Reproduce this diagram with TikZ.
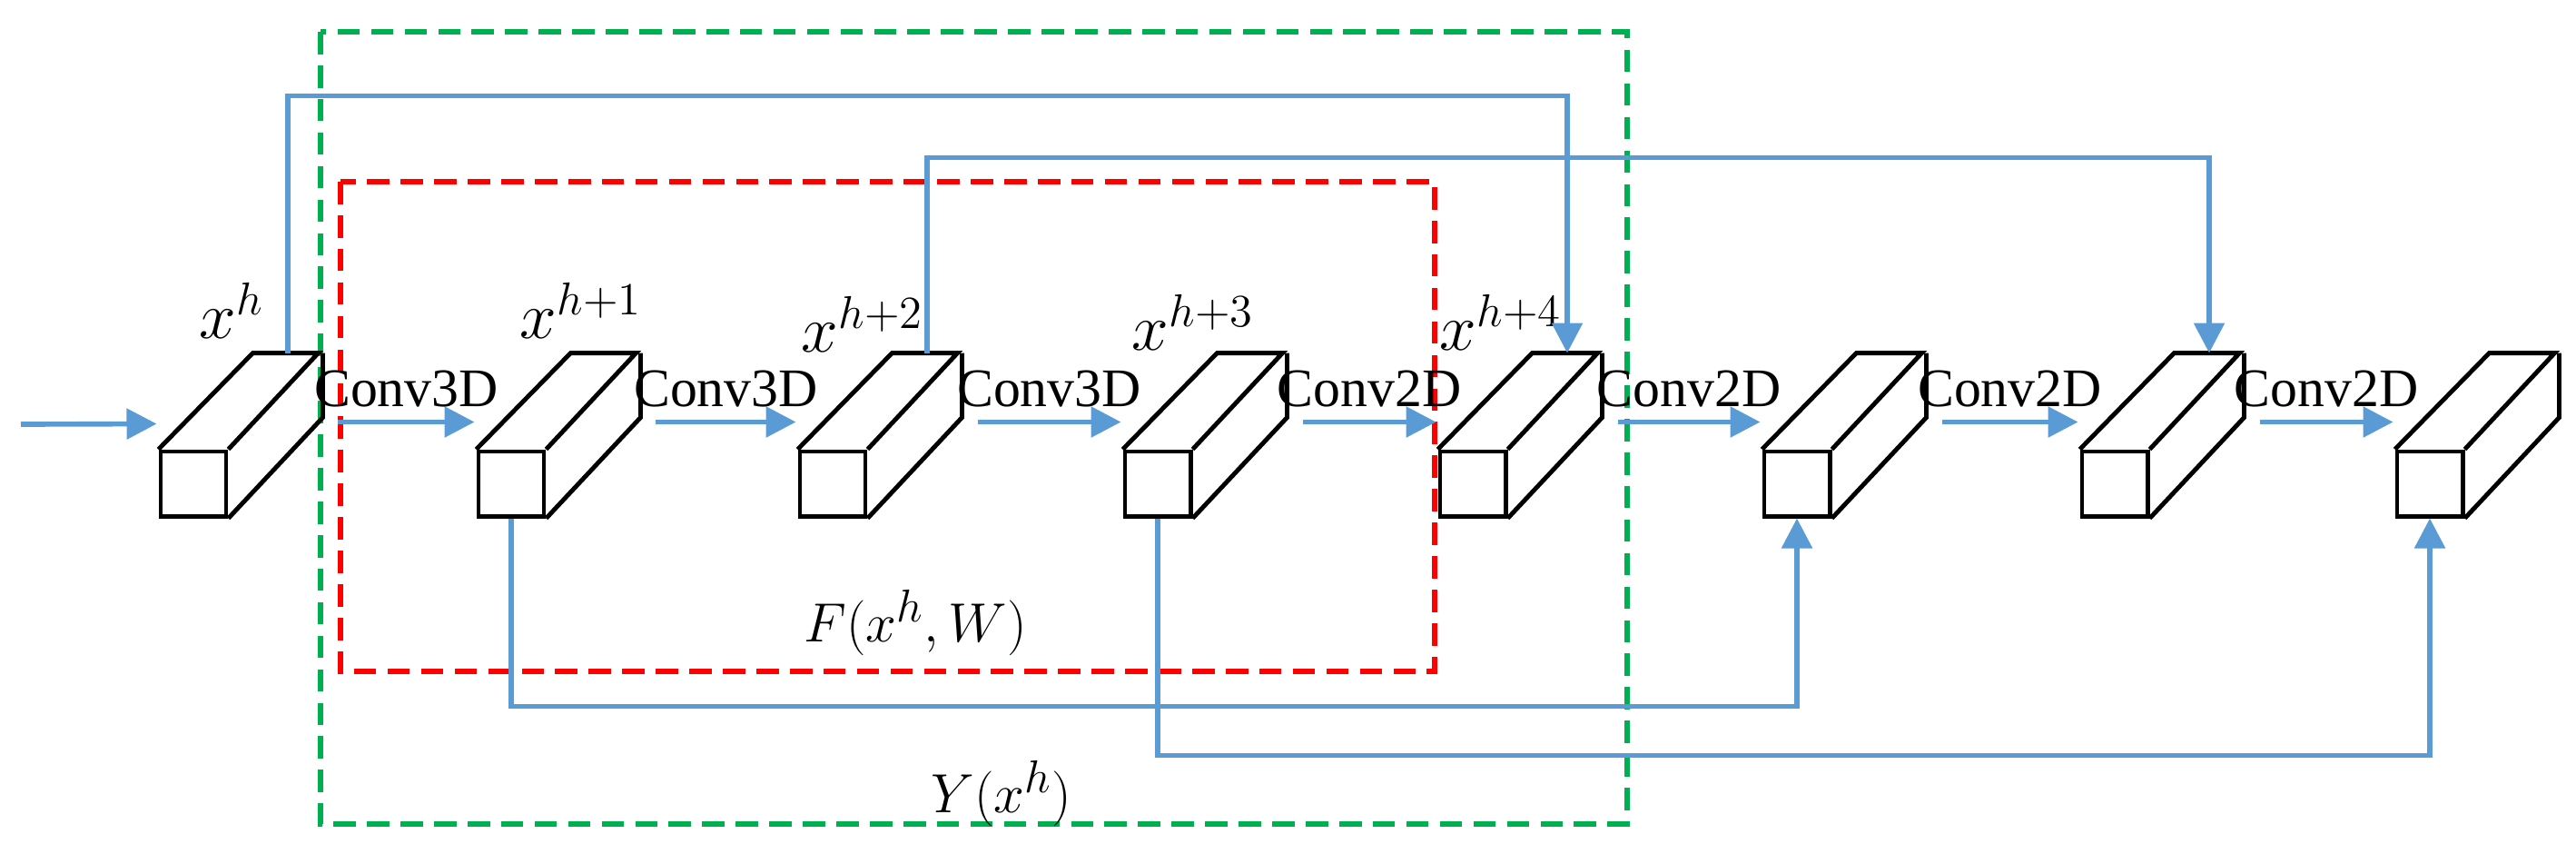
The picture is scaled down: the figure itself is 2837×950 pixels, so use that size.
\documentclass[tikz,border=0pt]{standalone}
\usepackage{fontspec}
\setmainfont{Liberation Serif}
\usetikzlibrary{positioning, arrows.meta, calc}
\definecolor{skipblue}{RGB}{91,155,213}
\definecolor{boxgreen}{RGB}{0,176,80}
\tikzset{
	front/.style={draw, line width=1.4pt, fill=white, minimum width=0.72cm, minimum height=0.71cm, inner sep=0pt},
	edgeline/.style={line width=1.4pt, line join=miter},
	flow/.style={skipblue, line width=1.6pt, -{Triangle[length=0.33cm,width=0.33cm]}},
	frame/.style={line width=1.6pt, dash pattern=on 7pt off 3.5pt},
	convlabel/.style={font=\fontsize{17}{20}\selectfont, above, inner sep=4pt},
	featlabel/.style={font=\fontsize{22}{24}\selectfont}
}
\begin{document}
\begin{tikzpicture}[x=0.01cm, y=-0.01cm]
	\useasboundingbox (0,0) rectangle (2837,950);
	% dashed frames
	\draw[frame, boxgreen] (353,35) rectangle (1792,907);
	\draw[frame, red] (375,200) rectangle (1580,739);
	\node[font=\fontsize{19}{22}\selectfont] (flabel) at (1008,685) {$F(x^{h},W)$};
	\node[font=\fontsize{19}{22}\selectfont] (ylabel) at (1103,873) {$Y(x^{h})$};
	% feature blocks
	\foreach \i/\x in {1/177, 2/527, 3/881, 4/1239, 5/1586, 6/1943, 7/2293, 8/2640}
	{
		\node[front] (b\i) at (\x+36,532.5) {};
		\draw[edgeline] (b\i.north west) -- ++(104,-106) -- ++(72,0) -- (b\i.north east);
		\draw[edgeline] ($(b\i.north east)+(104,-106)$) -- ++(0,71) -- (b\i.south east);
		\coordinate (b\i t) at ($(b\i.north)+(104,-106)$);
	}
	\node[featlabel] (xh0) at (255,342) {$x^{h}$};
	\node[featlabel] (xh1) at (640,342) {$x^{h+1}$};
	\node[featlabel] (xh2) at (950,357) {$x^{h+2}$};
	\node[featlabel] (xh3) at (1314,355) {$x^{h+3}$};
	\node[featlabel] (xh4) at (1653,355) {$x^{h+4}$};
	% main flow
	\coordinate (in) at (23,467);
	\draw[flow] (in) -- ($(b1.west)+(-2,-66)$);
	\foreach \a/\b/\t in {1/2/Conv3D, 2/3/Conv3D, 3/4/Conv3D, 4/5/Conv2D, 5/6/Conv2D, 6/7/Conv2D, 7/8/Conv2D}
		\draw[flow] ($(b\a.east)+(121,-68)$) -- node[convlabel, black] {\t} ($(b\b.west)+(-2,-68)$);
	% skip connections
	\draw[flow] (b1t) -- ++(0,-283) -| (b5t);
	\draw[flow] (b3t) -- ++(0,-215) -| (b7t);
	\draw[flow] (b2.south) -- ++(0,207) -| (b6.south);
	\draw[flow] (b4.south) -- ++(0,261) -| (b8.south);
\end{tikzpicture}
\end{document}
